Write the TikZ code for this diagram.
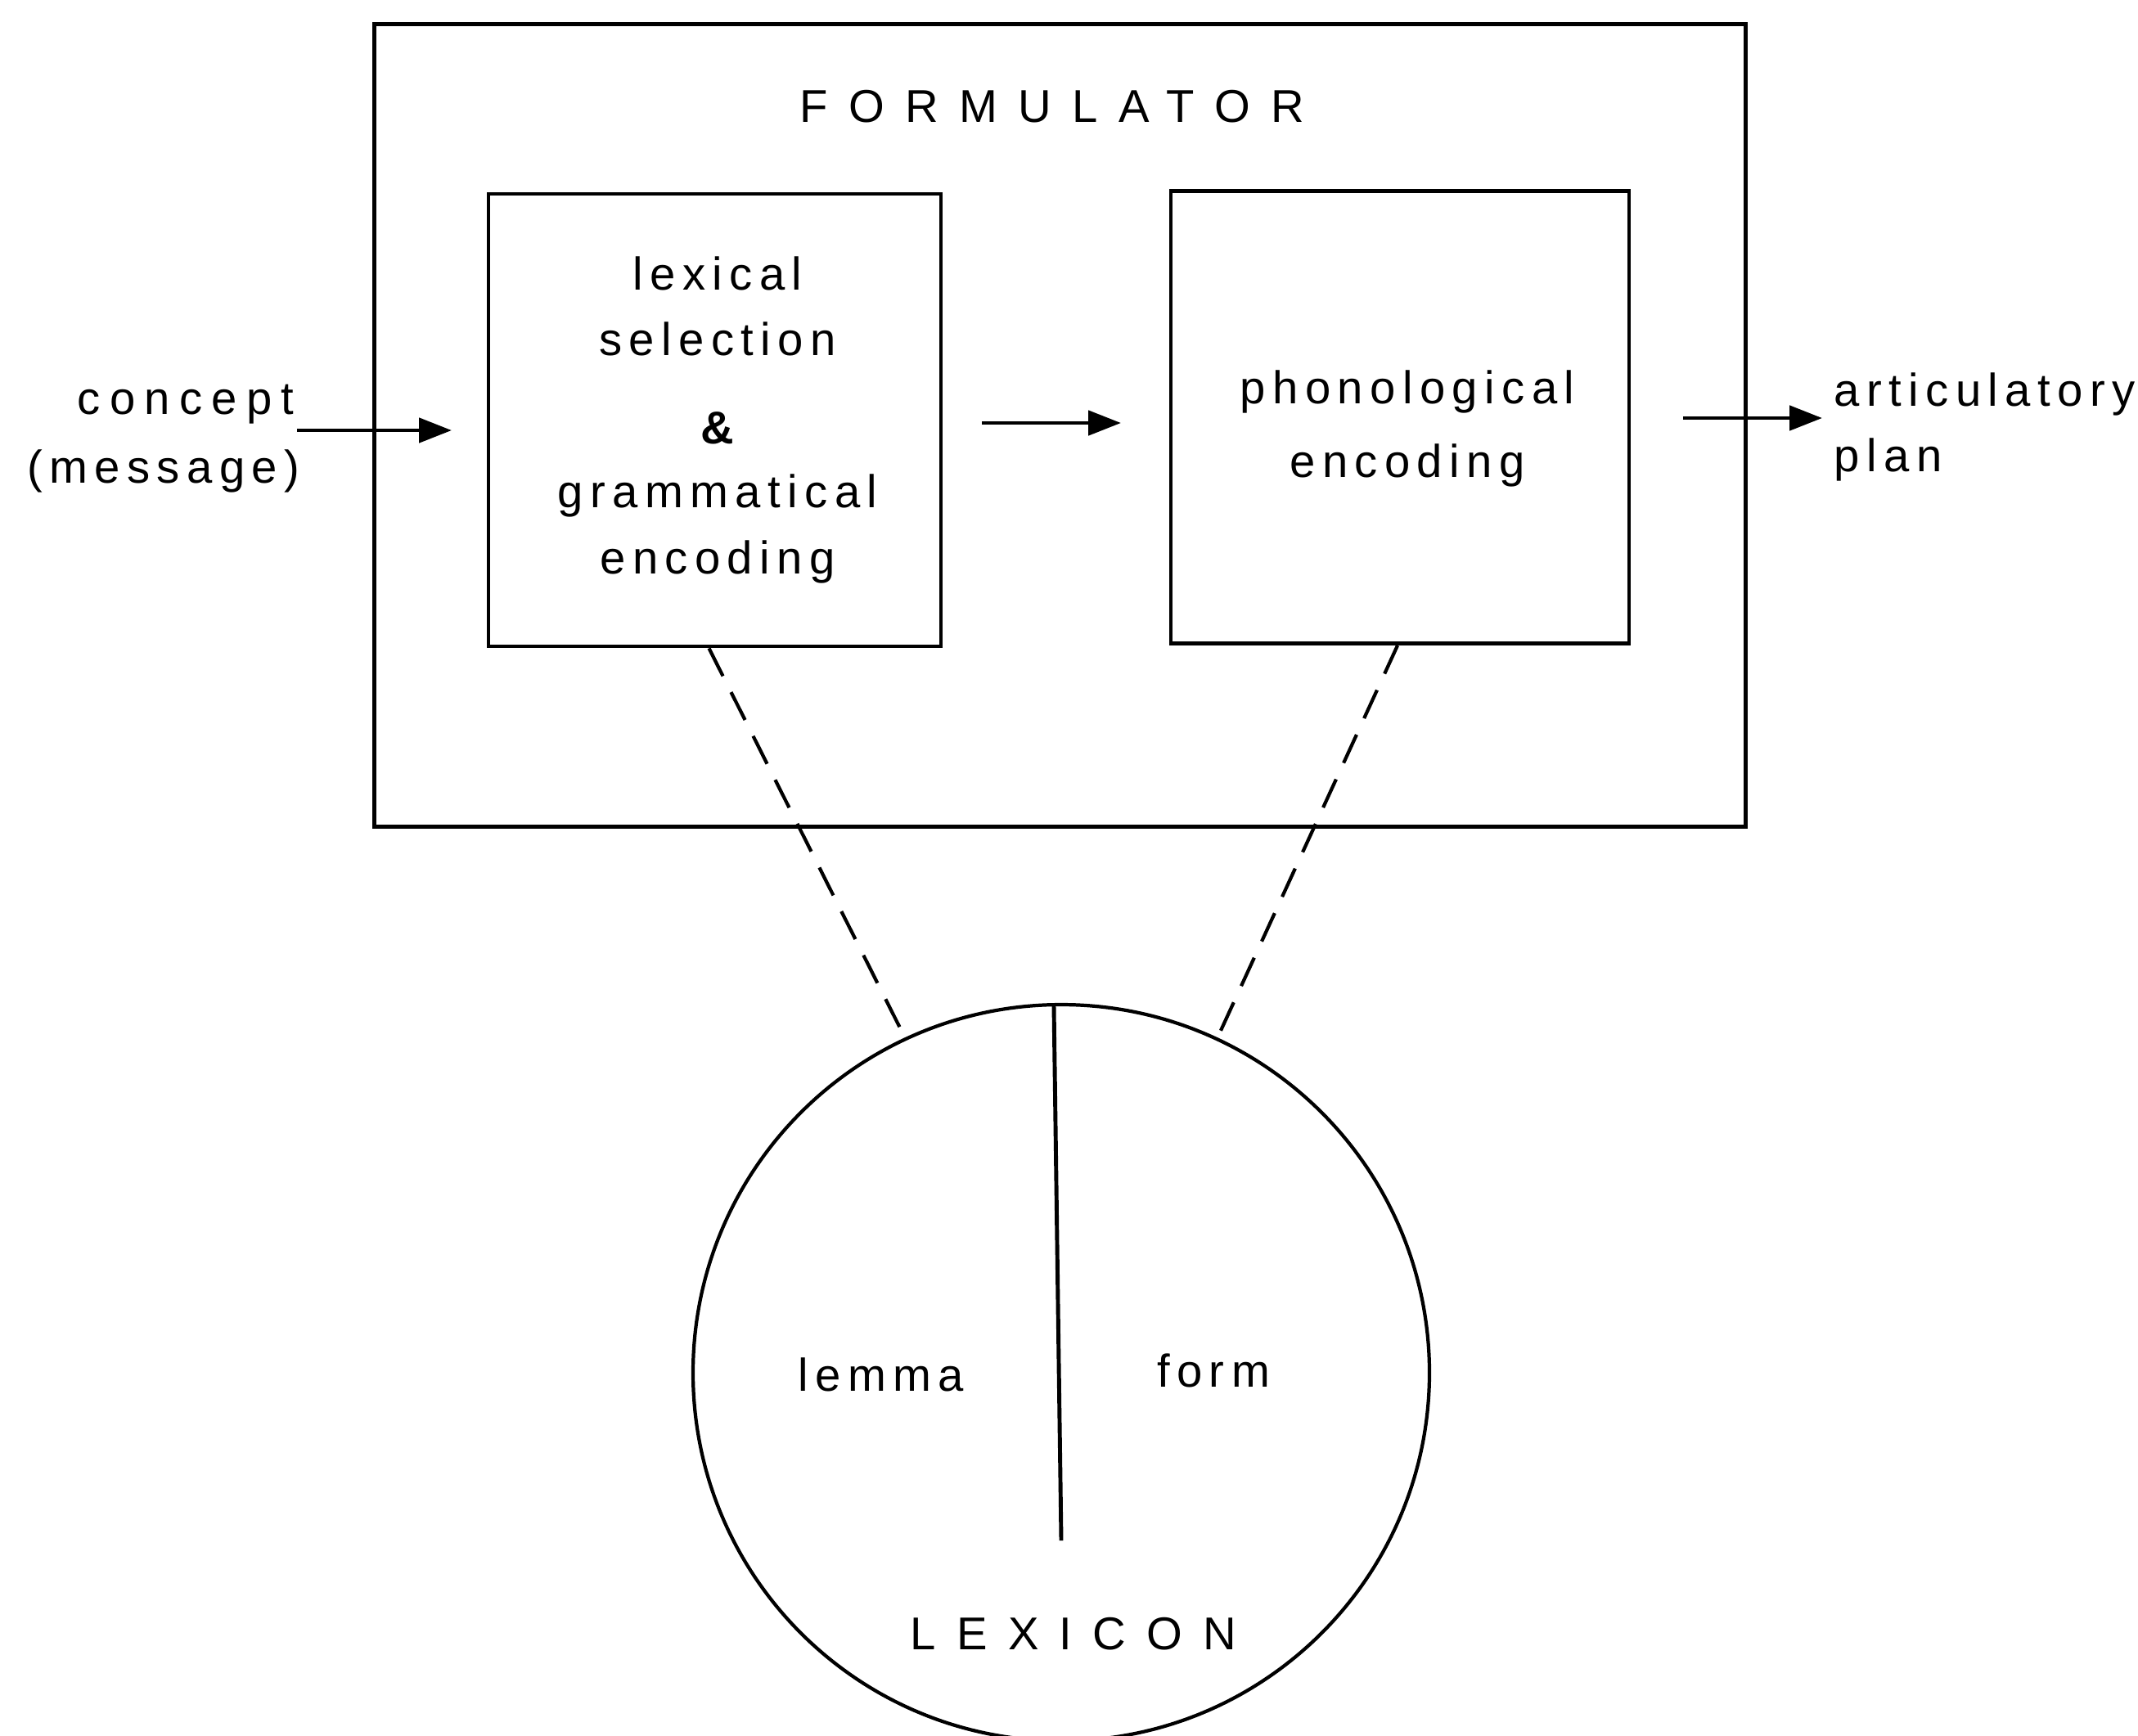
\documentclass[tikz,border=0pt]{standalone}
\usepackage{fontspec}
\setmainfont{Liberation Sans}
\newfontfamily\lsp[LetterSpace=15]{Liberation Sans}
\newfontfamily\lspw[LetterSpace=20]{Liberation Sans}
\newfontfamily\csp[LetterSpace=45]{Liberation Sans}
\usetikzlibrary{arrows.meta,calc}
\begin{document}
\begin{tikzpicture}[
  x=1cm,y=1cm,
  boxline/.style={draw=black,line width=1.4pt},
  procbox/.style={boxline,minimum width=5.53cm,minimum height=5.53cm,inner sep=0pt},
  txt/.style={inner sep=0pt,font=\fontsize{16}{22.8}\selectfont\lsp},
  captxt/.style={inner sep=0pt,font=\fontsize{16}{20}\selectfont\csp},
  flow/.style={line width=1.4pt,-{Triangle[length=4mm,width=3mm]}},
  dashline/.style={line width=1.2pt,dash pattern=on 3.8mm off 2.2mm}
]
\useasboundingbox (0,0) rectangle (26.13,-21.21);
% outer formulator box
\node[boxline,minimum width=16.76cm,minimum height=9.81cm,inner sep=0pt,anchor=north west] (form) at (4.55,-0.27) {};
\node[captxt] (formlabel) at (12.86,-1.30) {FORMULATOR};
% inner boxes
\node[procbox,minimum width=5.53cm,minimum height=5.53cm] (lbox) at (8.735,-5.135) {};
\node[procbox,minimum width=5.60cm,minimum height=5.53cm] (rbox) at (17.11,-5.10) {};
\node[txt,align=center] (ltext) at (8.77,-5.13) {lexical\\selection\\[8pt]{\bfseries\&}\\[-0.5pt]grammatical\\encoding};
\node[txt,align=center] (rtext) at (17.20,-5.24) {phonological\\[3pt]encoding};
% input / output labels
\node[txt,align=right,anchor=east] (concept) at (3.67,-5.36) {{\lspw concept}\hspace*{2pt}\\[1pt](message)};
\node[txt,align=left,anchor=west] (artic) at (22.41,-5.22) {articulatory\\plan};
% arrows
\coordinate (a1s) at (3.63,-5.26);
\coordinate (a1e) at (5.52,-5.26);
\coordinate (a2s) at (12.00,-5.17);
\coordinate (a2e) at (13.70,-5.17);
\coordinate (a3s) at (20.57,-5.11);
\coordinate (a3e) at (22.27,-5.11);
\draw[flow] (a1s) -- (a1e);
\draw[flow] (a2s) -- (a2e);
\draw[flow] (a3s) -- (a3e);
% lexicon
\node[draw=black,line width=1.2pt,circle,minimum size=9.0cm,inner sep=0pt] (lex) at (12.97,-16.78) {};
\coordinate (divtop) at (12.88,-12.30);
\coordinate (divbot) at (12.97,-18.83);
\draw[line width=1.4pt] (divtop) -- (divbot);
\node[txt] (lemma) at (10.77,-16.80) {lemma};
\node[txt] (formw) at (14.83,-16.75) {form};
\node[captxt] (lexlabel) at (13.12,-19.97) {LEXICON};
% dashed links
\coordinate (ld) at ($(lbox.south)+(-0.07,0)$);
\coordinate (rd) at ($(rbox.south)+(-0.03,0)$);
\draw[dashline] (ld) -- (lex.115.4);
\draw[dashline] (rd) -- (lex.65.7);
\end{tikzpicture}
\end{document}
